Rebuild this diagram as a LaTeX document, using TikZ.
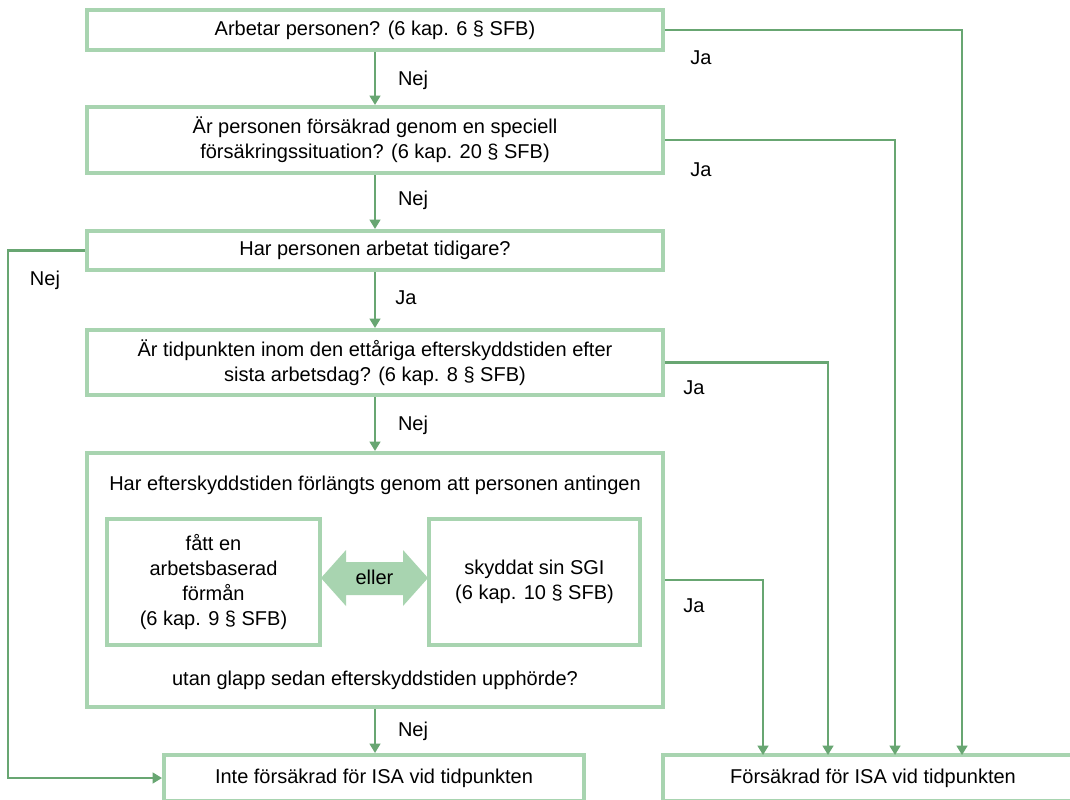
\documentclass[tikz,border=0pt]{standalone}
\usepackage{fontspec}
\setmainfont{Liberation Sans}
\usetikzlibrary{arrows.meta}
\definecolor{boxgreen}{HTML}{A8D4B0}
\definecolor{linegreen}{HTML}{68A672}
\begin{document}
\begin{tikzpicture}[x=0.75pt,y=-0.75pt,
  txt/.style={font=\fontsize{15}{18.75}\selectfont, align=center},
  box/.style={draw=boxgreen, line width=3pt, rectangle, inner sep=0pt, txt},
  lbl/.style={txt, inner sep=0pt},
  conn/.style={draw=linegreen, line width=1.6pt, -{Triangle[length=7pt,width=8pt]}}
]
\path[use as bounding box] (0,0) rectangle (1070,799);
\clip (0,0) rectangle (1070,799);
\fill[white] (0,0) rectangle (1070,799);

% main boxes
\node[box, minimum width=432pt, minimum height=30pt] (b1) at (375,30) {Arbetar personen? (6 kap. 6 § SFB)};
\node[box, minimum width=432pt, minimum height=49.5pt] (b2) at (375,140) {Är personen försäkrad genom en speciell\\försäkringssituation? (6 kap. 20 § SFB)};
\node[box, minimum width=432pt, minimum height=29.25pt] (b3) at (375,250.5) {Har personen arbetat tidigare?};
\node[box, minimum width=432pt, minimum height=48.75pt] (b4) at (375,362.5) {Är tidpunkten inom den ettåriga efterskyddstiden efter\\sista arbetsdag? (6 kap. 8 § SFB)};
\node[box, minimum width=432pt, minimum height=190.5pt] (b5) at (375,580) {};
\node[lbl] (t5a) at (375,485) {Har efterskyddstiden förlängts genom att personen antingen};
\node[lbl] (t5b) at (375,680) {utan glapp sedan efterskyddstiden upphörde?};
\node[box, minimum width=159.75pt, minimum height=94.5pt] (i1) at (213.5,582) {fått en\\arbetsbaserad\\förmån\\(6 kap. 9 § SFB)};
\node[box, minimum width=158.25pt, minimum height=94.5pt] (i2) at (534.5,582) {skyddat sin SGI\\(6 kap. 10 § SFB)};

% double arrow "eller"
\fill[boxgreen] (321,578) -- (346,550) -- (346,562) -- (403,562) -- (403,550) -- (428,578)
  -- (403,606) -- (403,595) -- (346,595) -- (346,606) -- cycle;
\node[lbl] (eller) at (374.5,577) {eller};

% result boxes
\node[box, minimum width=315pt, minimum height=34.5pt] (bl) at (374,778) {Inte försäkrad för ISA vid tidpunkten};
\node[box, minimum width=315pt, minimum height=34.5pt] (br) at (873,778) {Försäkrad för ISA vid tidpunkten};

% helper coordinates
\coordinate (c1) at (962,755);
\coordinate (c2) at (895,755);
\coordinate (c3) at (828,755);
\coordinate (c4) at (763,755);
\coordinate (l1) at (8,0);

% connectors
\draw[conn] (b1) -- (b2);
\draw[conn] (b2) -- (b3);
\draw[conn] (b3) -- (b4);
\draw[conn] (b4) -- (b5);
\draw[conn] (b5.south) -- (b5.south |- bl.north);
\draw[conn] (b1.east) -| (c1);
\draw[conn] (b2.east) -| (c2);
\draw[conn] (b4.east) -| (c3);
\draw[conn] (b5.east) -| (c4);
\draw[conn] (b3.west) -- (b3.west -| l1) |- (bl.west);

% labels
\node[lbl] (n1) at (413,80) {Nej};
\node[lbl] (j1) at (701,58) {Ja};
\node[lbl] (n2) at (413,200) {Nej};
\node[lbl] (j2) at (701,170) {Ja};
\node[lbl] (n3) at (45,280) {Nej};
\node[lbl] (j3) at (406,298) {Ja};
\node[lbl] (j4) at (694,388) {Ja};
\node[lbl] (n4) at (413,425) {Nej};
\node[lbl] (j5) at (694,606) {Ja};
\node[lbl] (n5) at (413,731) {Nej};
\end{tikzpicture}
\end{document}
